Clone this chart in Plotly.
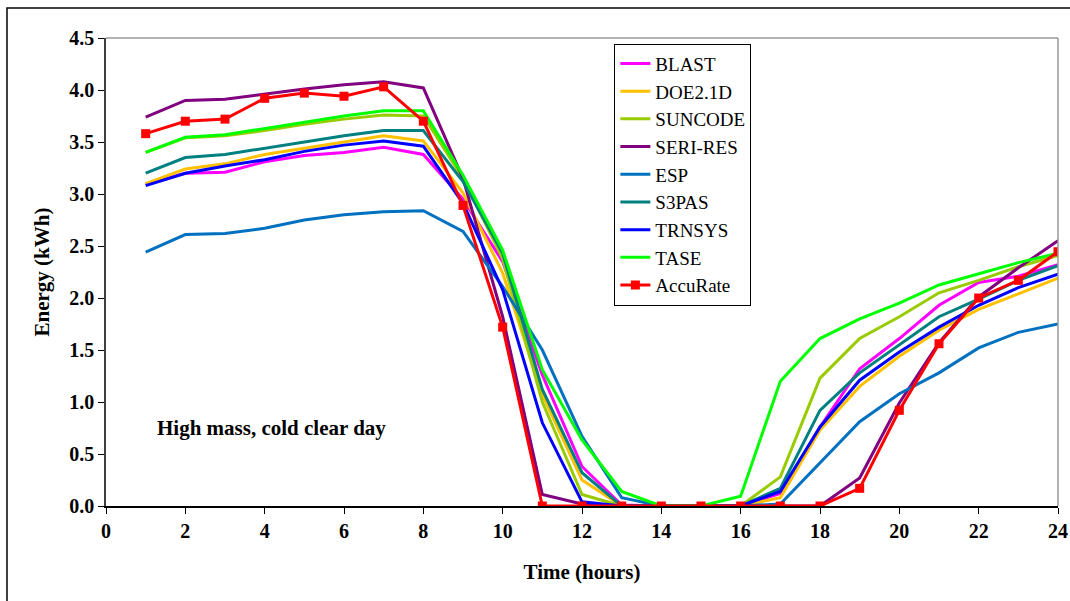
import plotly.graph_objects as go

hours = list(range(1, 25))

BLAST = [3.09, 3.20, 3.21, 3.31, 3.37, 3.40, 3.45, 3.38, 2.95, 2.35, 1.26, 0.38, 0.01, 0, 0, 0, 0.12, 0.76, 1.32, 1.61, 1.93, 2.15, 2.21, 2.32]
DOE21D = [3.10, 3.24, 3.29, 3.38, 3.44, 3.50, 3.56, 3.51, 3.01, 2.24, 1.07, 0.25, 0, 0, 0, 0, 0.08, 0.73, 1.15, 1.44, 1.69, 1.89, 2.04, 2.19]
SUNCODE = [3.40, 3.54, 3.56, 3.61, 3.67, 3.72, 3.76, 3.75, 3.15, 2.38, 1.00, 0.11, 0, 0, 0, 0, 0.28, 1.23, 1.61, 1.82, 2.05, 2.17, 2.30, 2.41]
SERIRES = [3.74, 3.90, 3.91, 3.96, 4.01, 4.05, 4.08, 4.02, 3.15, 1.82, 0.11, 0.02, 0, 0, 0, 0, 0, 0, 0.27, 0.99, 1.57, 2.01, 2.29, 2.55]
ESP = [2.44, 2.61, 2.62, 2.67, 2.75, 2.80, 2.83, 2.84, 2.64, 2.11, 1.50, 0.67, 0.08, 0, 0, 0, 0.02, 0.41, 0.81, 1.08, 1.28, 1.52, 1.67, 1.75]
S3PAS = [3.20, 3.35, 3.38, 3.44, 3.50, 3.56, 3.61, 3.61, 3.12, 2.43, 1.12, 0.32, 0, 0, 0, 0, 0.17, 0.92, 1.28, 1.55, 1.82, 1.99, 2.17, 2.31]
TRNSYS = [3.08, 3.20, 3.27, 3.33, 3.41, 3.47, 3.51, 3.46, 2.91, 2.08, 0.80, 0.04, 0, 0, 0, 0, 0.14, 0.76, 1.21, 1.48, 1.72, 1.93, 2.10, 2.23]
TASE = [3.40, 3.545, 3.57, 3.63, 3.69, 3.75, 3.80, 3.80, 3.18, 2.46, 1.31, 0.635, 0.14, 0, 0, 0.095, 1.20, 1.61, 1.80, 1.95, 2.125, 2.23, 2.34, 2.43]
AccuRate = [3.58, 3.70, 3.72, 3.92, 3.97, 3.94, 4.03, 3.70, 2.89, 1.72, 0, 0, 0, 0, 0, 0, 0, 0, 0.17, 0.92, 1.56, 2.00, 2.17, 2.445]

series = [
    ("BLAST", BLAST, "#FF00FF"),
    ("DOE2.1D", DOE21D, "#FFC000"),
    ("SUNCODE", SUNCODE, "#99CC00"),
    ("SERI-RES", SERIRES, "#800080"),
    ("ESP", ESP, "#0070C0"),
    ("S3PAS", S3PAS, "#008080"),
    ("TRNSYS", TRNSYS, "#0000FF"),
    ("TASE", TASE, "#00FF00"),
]

fig = go.Figure()
for name, vals, col in series:
    fig.add_trace(go.Scatter(x=hours, y=vals, name=name, mode="lines",
                             line=dict(color=col, width=3)))
fig.add_trace(go.Scatter(x=hours, y=AccuRate, name="AccuRate", mode="lines+markers",
                         line=dict(color="#FF0000", width=3),
                         marker=dict(symbol="square", size=9, color="#FF0000")))

serif = "Liberation Serif"
FS = 21

fig.update_layout(
    width=1070, height=601,
    margin=dict(l=106, r=12, t=38, b=95),
    paper_bgcolor="white", plot_bgcolor="white",
    font=dict(family=serif, size=FS, color="black"),
    showlegend=True,
    legend=dict(x=0.534, y=0.988, xanchor="left", yanchor="top",
                bgcolor="white", bordercolor="black", borderwidth=1,
                font=dict(family=serif, size=19, color="black"),
                entrywidth=112, entrywidthmode="pixels",
                tracegroupgap=0),
    xaxis=dict(range=[0, 24], tickmode="linear", tick0=0, dtick=2,
               showgrid=False, zeroline=False, automargin=False,
               showline=True, linecolor="black", linewidth=1.5, mirror=False,
               ticks="outside", ticklen=6, tickcolor="black",
               tickfont=dict(family=serif, size=20, weight="bold"),
               title=dict(text="Time (hours)", font=dict(family=serif, size=FS, weight="bold"),
                          standoff=24)),
    yaxis=dict(range=[0, 4.5], tickmode="linear", tick0=0, dtick=0.5, tickformat=".1f",
               showgrid=False, zeroline=False, automargin=False,
               showline=True, linecolor="#404040", linewidth=1.5,
               ticks="outside", ticklen=6, tickcolor="black",
               tickfont=dict(family=serif, size=20, weight="bold"),
               title=dict(text="Energy (kWh)", font=dict(family=serif, size=FS, weight="bold"),
                          standoff=14)),
    shapes=[
        dict(type="line", xref="paper", yref="paper", x0=0, x1=1, y0=1, y1=1,
             line=dict(color="#999999", width=1.5)),
        dict(type="line", xref="paper", yref="paper", x0=1, x1=1, y0=0, y1=1,
             line=dict(color="#999999", width=1.5)),
        dict(type="rect", xref="paper", yref="paper", x0=-0.104, x1=1.2, y0=-0.4, y1=1.064,
             line=dict(color="black", width=1.5), layer="below"),
    ],
    annotations=[
        dict(text="<b>High mass, cold clear day</b>", x=0.0515, y=0.166,
             xref="paper", yref="paper", xanchor="left", yanchor="middle",
             showarrow=False, font=dict(family=serif, size=FS, color="black")),
    ],
)

fig.write_html("out.html")
